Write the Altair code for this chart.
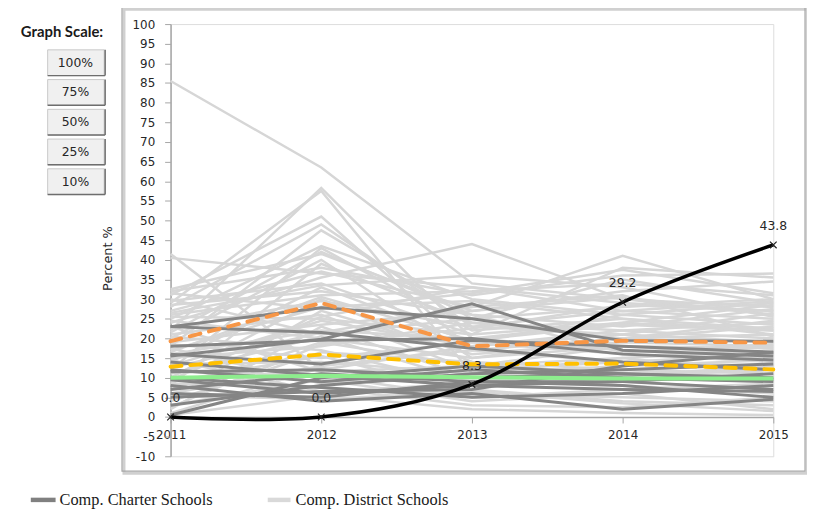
import altair as alt
import pandas as pd

years = [2011, 2012, 2013, 2014, 2015]

district = [
    [85.5, 63.5, 34.0, 30.0, 28.0],
    [22.0, 58.3, 20.0, 24.0, 22.0],
    [29.0, 57.5, 11.0, 15.0, 17.0],
    [31.0, 51.0, 17.0, 20.0, 24.5],
    [18.0, 47.5, 25.0, 28.0, 30.0],
    [41.5, 12.0, 18.0, 22.0, 20.0],
    [40.5, 36.5, 33.0, 29.0, 27.0],
    [25.0, 43.5, 30.0, 26.0, 29.0],
    [12.0, 43.0, 22.0, 25.0, 21.0],
    [32.5, 41.5, 27.0, 32.0, 34.5],
    [20.0, 40.0, 15.0, 18.0, 16.0],
    [8.0, 39.0, 24.0, 20.0, 23.0],
    [32.0, 38.0, 31.0, 36.0, 36.5],
    [27.0, 37.0, 28.0, 41.0, 30.0],
    [24.0, 35.5, 44.0, 30.0, 26.0],
    [29.5, 34.0, 21.0, 38.0, 35.5],
    [14.0, 33.0, 19.0, 16.0, 14.0],
    [28.5, 32.0, 26.0, 23.0, 27.5],
    [26.0, 31.0, 32.0, 34.0, 31.0],
    [10.0, 30.0, 14.0, 12.0, 10.0],
    [22.5, 29.5, 23.0, 27.0, 25.0],
    [17.0, 28.0, 29.5, 25.0, 22.5],
    [5.0, 27.0, 16.0, 19.0, 18.0],
    [21.0, 26.0, 12.0, 14.0, 13.0],
    [25.5, 25.0, 21.0, 24.0, 28.5],
    [13.0, 24.5, 18.0, 21.0, 19.0],
    [19.0, 23.5, 27.0, 30.5, 26.0],
    [2.0, 23.0, 10.0, 8.0, 6.0],
    [16.0, 22.0, 20.0, 17.0, 15.0],
    [30.0, 21.0, 25.0, 35.0, 29.0],
    [11.0, 20.5, 9.0, 11.0, 12.0],
    [24.5, 20.0, 15.0, 20.0, 21.0],
    [7.0, 19.0, 13.0, 15.0, 11.0],
    [15.0, 18.0, 24.0, 22.0, 24.0],
    [20.5, 17.0, 8.0, 10.0, 9.0],
    [4.0, 16.5, 14.0, 9.0, 7.0],
    [9.0, 15.5, 6.0, 5.0, 4.0],
    [18.5, 15.0, 19.0, 26.0, 23.5],
    [13.5, 14.0, 11.0, 13.0, 14.5],
    [6.0, 13.0, 17.0, 14.0, 16.0],
    [1.0, 12.5, 7.0, 4.0, 3.0],
    [23.0, 11.5, 13.0, 18.0, 17.5],
    [11.5, 10.5, 5.0, 7.0, 8.5],
    [3.0, 9.5, 4.0, 6.0, 2.0],
    [17.5, 8.5, 10.0, 12.0, 11.0],
    [8.5, 7.5, 3.0, 2.5, 5.0],
    [14.5, 6.5, 8.5, 10.5, 13.0],
    [0.5, 5.5, 2.0, 1.0, 0.5],
    [5.5, 4.5, 6.5, 3.5, 1.5],
    [26.5, 33.5, 36.0, 33.0, 25.5],
    [31.5, 27.5, 31.5, 37.5, 31.5],
    [12.5, 21.5, 28.0, 31.0, 20.5],
    [2.5, 18.5, 22.5, 28.5, 27.0],
    [9.5, 25.5, 33.0, 27.0, 29.5],
    [16.5, 30.5, 19.5, 23.5, 22.0],
    [21.5, 42.0, 26.0, 16.5, 18.5],
    [28.0, 49.0, 23.0, 21.0, 26.5],
]

charter = [
    [23.0, 27.8, 25.0, 19.5, 19.3],
    [23.0, 21.5, 17.5, 14.0, 12.0],
    [15.5, 19.8, 28.8, 17.0, 15.5],
    [16.0, 13.5, 19.5, 18.0, 16.5],
    [12.0, 9.0, 12.0, 10.0, 9.0],
    [9.5, 6.0, 8.0, 7.0, 6.5],
    [10.0, 7.5, 5.0, 6.0, 8.0],
    [6.0, 5.0, 9.0, 9.0, 7.0],
    [3.0, 8.0, 11.0, 12.0, 13.5],
    [0.5, 10.0, 13.0, 11.0, 9.5],
    [8.0, 4.0, 6.0, 2.0, 4.5],
    [11.5, 12.0, 10.0, 11.0, 10.0],
    [14.0, 10.5, 8.0, 9.0, 11.0],
    [7.0, 11.0, 9.0, 8.0, 5.0],
    [18.0, 19.5, 20.0, 16.0, 14.5],
    [5.0, 6.5, 7.0, 13.0, 16.5],
]

orange_avg = [19.3, 29.0, 18.0, 19.4, 18.9]
yellow_avg = [12.8, 15.9, 13.4, 13.6, 12.1]
green_target = [10.0, 10.5, 10.1, 9.8, 9.8]
school = [0.0, 0.0, 8.3, 29.2, 43.8]
school_labels = ["0.0", "0.0", "8.3", "29.2", "43.8"]
y_ticks = list(range(-10, 101, 5))
button_labels = ["100%", "75%", "50%", "25%", "10%"]
legend_labels = ["Comp. Charter Schools", "Comp. District Schools"]


def long_df(rows, group):
    recs = []
    for i, row in enumerate(rows):
        for yr, v in zip(years, row):
            recs.append({"year": yr, "value": v, "id": f"{group}{i}"})
    return pd.DataFrame(recs)


df_district = long_df(district, "d")
df_charter = long_df(charter, "c")
df_orange = pd.DataFrame({"year": years, "value": orange_avg})
df_yellow = pd.DataFrame({"year": years, "value": yellow_avg})
df_green = pd.DataFrame({"year": years, "value": green_target})
df_school = pd.DataFrame({"year": years, "value": school, "label": school_labels})
one = pd.DataFrame({"k": [0]})

AX_FONT = "DejaVu Sans"
LAB_COLOR = "#262626"

x_enc = alt.X(
    "year:Q",
    scale=alt.Scale(domain=[2011, 2015], nice=False, zero=False),
    axis=alt.Axis(
        values=years, format="d", orient="bottom", offset=-39.6, title=None,
        grid=False, tickSize=6, labelPadding=7, domainColor="#a6a6a6",
        domainWidth=1.5, tickColor="#a6a6a6", labelFont=AX_FONT,
        labelFontSize=12, labelColor=LAB_COLOR, labelFlush=False,
        labelOverlap=False,
    ),
)
y_enc = alt.Y(
    "value:Q",
    scale=alt.Scale(domain=[-10, 100], nice=False, zero=False),
    axis=alt.Axis(
        values=y_ticks, title="Percent %", grid=False, tickSize=6,
        labelPadding=10, domainColor="#a6a6a6", domainWidth=1.5,
        tickColor="#a6a6a6", labelFont=AX_FONT, labelFontSize=12,
        labelColor=LAB_COLOR, titleFont=AX_FONT, titleFontSize=13,
        titleFontWeight="normal", titleColor=LAB_COLOR, titleX=-60,
        titleY=236, titleAngle=270, titleAlign="center",
        titleBaseline="alphabetic", labelFlush=False, labelOverlap=False,
        labelSeparation=0, labelBound=False, labelExpr="'' + datum.value",
    ),
)

district_layer = alt.Chart(df_district).mark_line(
    color="#d6d6d6", strokeWidth=2.5
).encode(x=x_enc, y=y_enc, detail="id:N")

charter_layer = alt.Chart(df_charter).mark_line(
    color="#858585", strokeWidth=3
).encode(x=x_enc, y=y_enc, detail="id:N")

orange_layer = alt.Chart(df_orange).mark_line(
    color="#f79646", strokeWidth=4, strokeDash=[11, 9], strokeCap="round"
).encode(x=x_enc, y=y_enc)

yellow_layer = alt.Chart(df_yellow).mark_line(
    color="#ffc000", strokeWidth=4, strokeDash=[11, 9], strokeCap="round"
).encode(x=x_enc, y=y_enc)

green_layer = alt.Chart(df_green).mark_line(
    color="#8ded8d", strokeWidth=4
).encode(x=x_enc, y=y_enc)

school_line = alt.Chart(df_school).mark_line(
    color="black", strokeWidth=3.5, interpolate="cardinal", tension=0
).encode(x=x_enc, y=y_enc)

school_pts = alt.Chart(df_school).mark_point(
    shape="M-1,-1L1,1M-1,1L1,-1", size=45, filled=False, stroke="#222222",
    strokeWidth=1.2, opacity=1
).encode(x=x_enc, y=y_enc)

school_txt = alt.Chart(df_school).mark_text(
    dy=-19, font=AX_FONT, fontSize=12.5, color=LAB_COLOR
).encode(x=x_enc, y=y_enc, text="label:N")

# chart-area frame with shadow
frame_shadow = alt.Chart(one).mark_rect(
    fillOpacity=0, stroke="#d0d0d0", strokeWidth=3
).encode(x=alt.value(-47), x2=alt.value(642), y=alt.value(-15), y2=alt.value(453))
frame = alt.Chart(one).mark_rect(
    fill="white", fillOpacity=0, stroke="#a6a6a6", strokeWidth=1.2
).encode(x=alt.value(-49), x2=alt.value(640), y=alt.value(-17), y2=alt.value(451))

deco = [frame_shadow, frame]

# Graph Scale buttons
deco.append(
    alt.Chart(one).mark_text(
        text="Graph Scale:", font="Lato", fontSize=15, fontWeight="bold",
        align="right", baseline="middle", color="#1a1a1a"
    ).encode(x=alt.value(-68), y=alt.value(8))
)
for i, lab in enumerate(button_labels):
    top = 26 + i * 30
    deco.append(
        alt.Chart(one).mark_rect(fill="#f0f0f0", stroke="#c8c8c8", strokeWidth=1).encode(
            x=alt.value(-124), x2=alt.value(-67), y=alt.value(top), y2=alt.value(top + 26)
        )
    )
    deco.append(
        alt.Chart(one).mark_rule(color="#6e6e6e", strokeWidth=1.5).encode(
            x=alt.value(-124), x2=alt.value(-66), y=alt.value(top + 26)
        )
    )
    deco.append(
        alt.Chart(one).mark_rule(color="#6e6e6e", strokeWidth=1.5).encode(
            x=alt.value(-66), y=alt.value(top), y2=alt.value(top + 26)
        )
    )
    deco.append(
        alt.Chart(one).mark_text(
            text=lab, font=AX_FONT, fontSize=12.5, align="center",
            baseline="middle", color=LAB_COLOR
        ).encode(x=alt.value(-96), y=alt.value(top + 13))
    )

# bottom legend
legend_specs = [(legend_labels[0], "#808080", -141, -116, -112),
                (legend_labels[1], "#d9d9d9", 98, 121, 126)]
for lab, col, x0, x1, tx in legend_specs:
    deco.append(
        alt.Chart(one).mark_rule(color=col, strokeWidth=4.5).encode(
            x=alt.value(x0), x2=alt.value(x1), y=alt.value(480)
        )
    )
    deco.append(
        alt.Chart(one).mark_text(
            text=lab, font="Liberation Serif", fontSize=16.5, align="left",
            baseline="middle", color="#1a1a1a"
        ).encode(x=alt.value(tx), y=alt.value(480))
    )

chart = alt.layer(
    *deco[:2],
    district_layer, charter_layer, orange_layer, yellow_layer, green_layer,
    school_line, school_pts, school_txt,
    *deco[2:],
).properties(
    width=608, height=436,
    autosize=alt.AutoSizeParams(type="none"),
    padding={"left": 164, "top": 14, "right": 34, "bottom": 56},
).configure_view(strokeWidth=0).configure_axis(
    labelOverlap=False
).configure(background="white")

chart.save("out.html", embed_options={"renderer": "svg", "actions": False})
